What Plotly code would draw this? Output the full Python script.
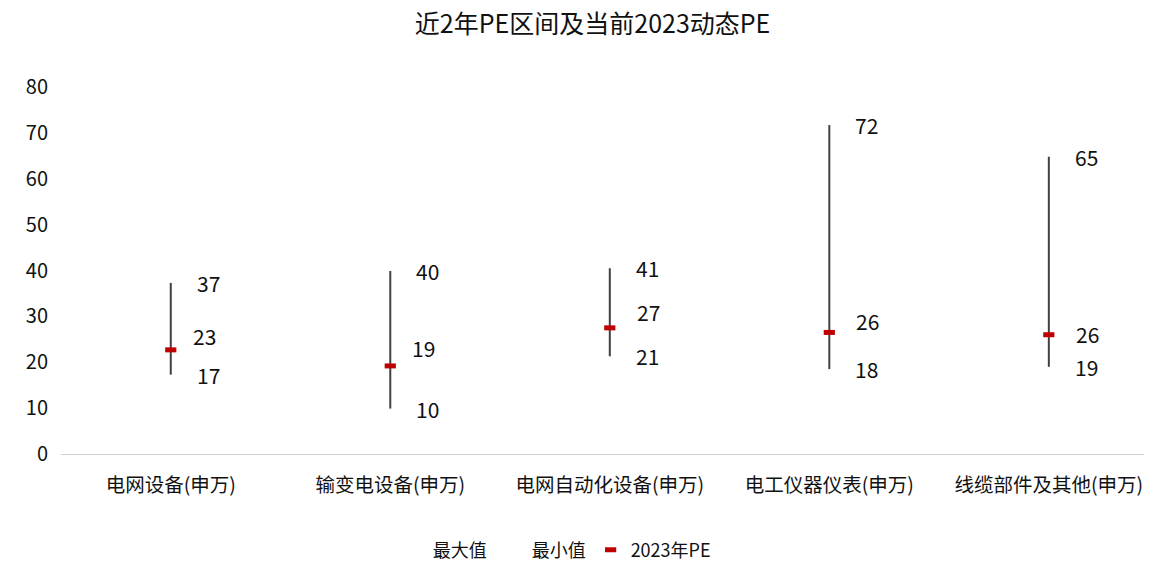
import plotly.graph_objects as go

categories = ["电网设备(申万)", "输变电设备(申万)", "电网自动化设备(申万)", "电工仪器仪表(申万)", "线缆部件及其他(申万)"]
pe_max = [37.3, 39.9, 40.5, 71.7, 64.8]
pe_min = [17.3, 9.9, 21.3, 18.5, 19.0]
pe_2023 = [22.7, 19.2, 27.5, 26.5, 26.0]
max_labels = ["37", "40", "41", "72", "65"]
min_labels = ["17", "10", "21", "18", "19"]
pe_labels = ["23", "19", "27", "26", "26"]

FONT = "Noto Sans CJK SC, Microsoft YaHei, sans-serif"
TXT = "#111111"
# vertical lift of the 2023 labels (Excel nudged them to avoid overlap)
pe_lift = [14, 18, 16, 11, 1]

fig = go.Figure()

# high-low lines
hx, hy = [], []
for c, lo, hi in zip(categories, pe_min, pe_max):
    hx += [c, c, None]
    hy += [lo, hi, None]
fig.add_trace(go.Scatter(x=hx, y=hy, mode="lines", line=dict(color="#404040", width=2),
                         showlegend=False, hoverinfo="skip"))

fig.add_trace(go.Scatter(x=categories, y=pe_max, name="最大值", mode="markers",
                         marker=dict(size=1, color="rgba(0,0,0,0)")))
fig.add_trace(go.Scatter(x=categories, y=pe_min, name="最小值", mode="markers",
                         marker=dict(size=1, color="rgba(0,0,0,0)")))
fig.add_trace(go.Scatter(x=categories, y=pe_2023, name="2023年PE", mode="markers",
                         marker=dict(symbol="line-ew", size=8,
                                     line=dict(color="#C00000", width=5))))

for i, c in enumerate(categories):
    fig.add_annotation(x=c, y=pe_max[i], text=max_labels[i], showarrow=False,
                       xanchor="left", xshift=24, font=dict(size=21, color=TXT, family=FONT))
    fig.add_annotation(x=c, y=pe_min[i], text=min_labels[i], showarrow=False,
                       xanchor="left", xshift=24, font=dict(size=21, color=TXT, family=FONT))
    fig.add_annotation(x=c, y=pe_2023[i], text=pe_labels[i], showarrow=False,
                       xanchor="left", xshift=20 if i < 2 else 25, yshift=pe_lift[i],
                       font=dict(size=21, color=TXT, family=FONT))

fig.update_layout(
    width=1144, height=554,
    paper_bgcolor="white", plot_bgcolor="white",
    font=dict(family=FONT, size=20, color=TXT),
    title=dict(text="近2年PE区间及当前2023动态PE", x=0.511, xref="container", xanchor="center",
               y=0.97, yanchor="middle", font=dict(size=25, color=TXT, family=FONT)),
    margin=dict(l=53, r=0, t=79, b=108, autoexpand=False),
    showlegend=True,
    legend=dict(orientation="h", x=0.452, xanchor="center",
                y=-0.262, yanchor="middle", font=dict(size=18, color=TXT, family=FONT),
                itemwidth=30),
    xaxis=dict(type="category", range=[-0.5, 4.47], showline=True, linecolor="#d0d0d0",
               linewidth=1, showgrid=False, ticks="", tickangle=0, automargin=False,
               ticklabelstandoff=14, tickfont=dict(size=19.5, color=TXT)),
    yaxis=dict(range=[0, 80], dtick=10, showgrid=False, zeroline=False, showline=False,
               ticks="", automargin=False, ticklabelstandoff=12, tickfont=dict(size=20, color=TXT)),
)

fig.write_html("out.html")
